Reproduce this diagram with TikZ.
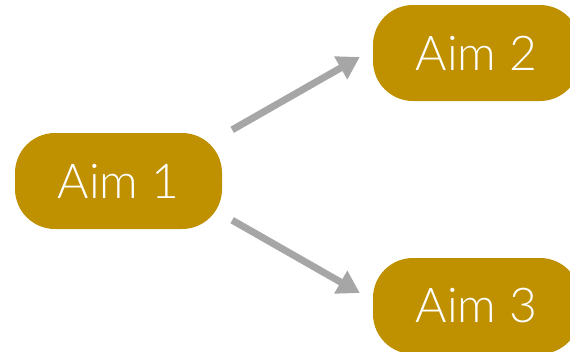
\documentclass[tikz,border=0pt]{standalone}
\usepackage{fontspec}
\setmainfont{Lato}[UprightFont=* Light]
\usetikzlibrary{arrows.meta}
\definecolor{aimgold}{HTML}{BF9000}
\definecolor{arrowgray}{HTML}{A6A6A6}
\tikzset{
  aimbox/.style={rectangle, rounded corners=40pt, fill=aimgold, text=white,
    minimum width=207pt, minimum height=96pt, inner sep=0pt,
    font=\fontsize{48pt}{56pt}\selectfont},
  flowarrow/.style={draw=arrowgray, line width=7pt,
    -{Triangle[width=25pt,length=22pt]}}
}
\begin{document}
\begin{tikzpicture}[x=1pt,y=-1pt]
\useasboundingbox (0,0) rectangle (570,351);
\clip (0,0) rectangle (570,351);
\node[aimbox] (aim1) at (118.5,181) {Aim 1};
\node[aimbox] (aim2) at (476.5,53) {Aim 2};
\node[aimbox] (aim3) at (476.5,306) {Aim 3};
\draw[flowarrow] ([shift={(10pt,3pt)}]aim1.north east) -- ([shift={(-13pt,-4pt)}]aim2.west);
\draw[flowarrow] ([shift={(10pt,9pt)}]aim1.south east) -- ([shift={(-13pt,13pt)}]aim3.west);
\end{tikzpicture}
\end{document}
